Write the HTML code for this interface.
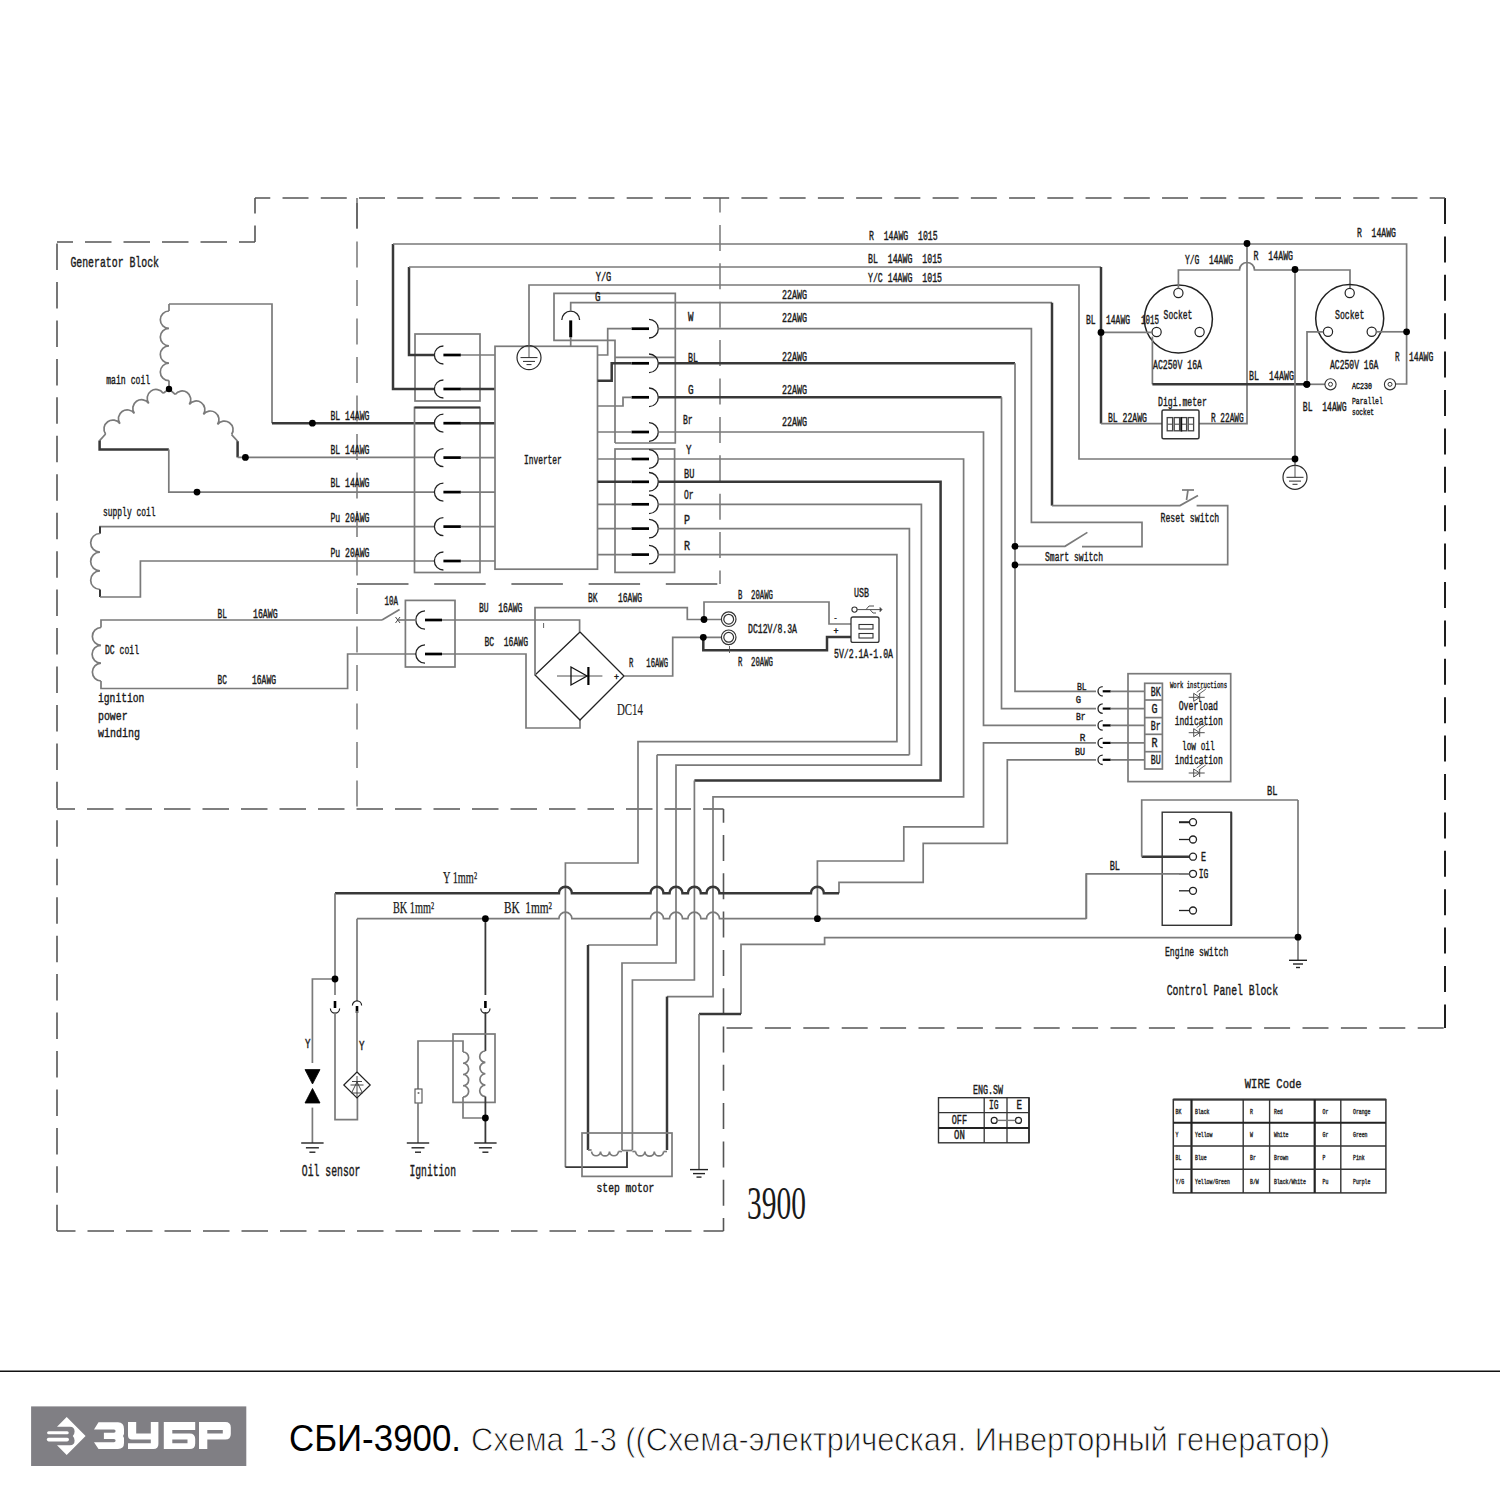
<!DOCTYPE html>
<html><head><meta charset="utf-8"><title>СБИ-3900 схема</title>
<style>html,body{margin:0;padding:0;background:#fff;width:1500px;height:1500px;overflow:hidden}svg{display:block}</style>
</head><body>
<svg width="1500" height="1500" viewBox="0 0 1500 1500" stroke-linecap="butt" stroke-linejoin="miter">
<rect x="0" y="0" width="1500" height="1500" fill="#fff"/>
<line x1="57" y1="242" x2="255" y2="242" stroke="#555555" stroke-width="1.6" stroke-dasharray="26.5 12" stroke-dashoffset="10.5"/>
<line x1="255" y1="242" x2="255" y2="198" stroke="#555555" stroke-width="1.6" stroke-dasharray="26.5 12" stroke-dashoffset="10"/>
<line x1="57" y1="242" x2="57" y2="1231" stroke="#555555" stroke-width="1.6" stroke-dasharray="26.5 11.95" stroke-dashoffset="36.9"/>
<line x1="57" y1="1231" x2="723.5" y2="1231" stroke="#555555" stroke-width="1.6" stroke-dasharray="26.5 12" stroke-dashoffset="8"/>
<line x1="723.5" y1="809" x2="723.5" y2="1231" stroke="#555555" stroke-width="1.6" stroke-dasharray="26 12.3" stroke-dashoffset="12.3"/>
<line x1="723.5" y1="1028" x2="1445" y2="1028" stroke="#555555" stroke-width="1.6" stroke-dasharray="26 12.4" stroke-dashoffset="35.4"/>
<line x1="1445" y1="198" x2="1445" y2="1028" stroke="#1e1e1e" stroke-width="2" stroke-dasharray="26 12.4" stroke-dashoffset="0"/>
<line x1="255" y1="198" x2="1445" y2="198" stroke="#555555" stroke-width="1.6" stroke-dasharray="26 12.24" stroke-dashoffset="10.72"/>
<line x1="57" y1="809" x2="723.5" y2="809" stroke="#555555" stroke-width="1.6" stroke-dasharray="26.5 12" stroke-dashoffset="8.5"/>
<line x1="357" y1="198" x2="357" y2="809" stroke="#555555" stroke-width="1.2" stroke-dasharray="26 12.5" stroke-dashoffset="33.4"/>
<path d="M357,198 V228" stroke="#4a4a4a" stroke-width="1.2" fill="none" />
<line x1="720" y1="198" x2="720" y2="584" stroke="#555555" stroke-width="1.2" stroke-dasharray="26 12.4" stroke-dashoffset="11.5"/>
<line x1="357" y1="584" x2="720" y2="584" stroke="#555555" stroke-width="1.6" stroke-dasharray="51.5 25.7" stroke-dashoffset="0"/>
<text x="70.4" y="267.4" font-family="'Liberation Mono', monospace" font-size="15.15" font-weight="normal" fill="#1a1a1a" text-anchor="start" textLength="88.6" lengthAdjust="spacingAndGlyphs" style="white-space:pre" stroke="#1a1a1a" stroke-width="0.42" >Generator Block</text>
<path d="M169,304 V311" stroke="#7a7a7a" stroke-width="1.7" fill="none" />
<path d="M169,311 A8.7,8.7 0 0 0 169,328.4 A8.7,8.7 0 0 0 169,345.8 A8.7,8.7 0 0 0 169,363.2 A8.7,8.7 0 0 0 169,380.6" stroke="#7a7a7a" stroke-width="1.7" fill="none" />
<path d="M169,380.6 V389" stroke="#7a7a7a" stroke-width="1.7" fill="none" />
<path d="M169,304 H272 V423.2" stroke="#7a7a7a" stroke-width="1.7" fill="none" />
<path d="M272,423.2 H434.3" stroke="#383838" stroke-width="2.5" fill="none" />
<text x="106.2" y="384.2" font-family="'Liberation Mono', monospace" font-size="12.73" font-weight="normal" fill="#1a1a1a" text-anchor="start" textLength="44" lengthAdjust="spacingAndGlyphs" style="white-space:pre" stroke="#1a1a1a" stroke-width="0.42" >main coil</text>
<path d="M169,389 L163.2,393.2" stroke="#7a7a7a" stroke-width="1.7" fill="none" />
<path d="M163.2,393.2 A8.82,8.82 0 0 0 148.8,403.4 A8.82,8.82 0 0 0 134.4,413.6 A8.82,8.82 0 0 0 120,423.8 A8.82,8.82 0 0 0 105.6,434" stroke="#7a7a7a" stroke-width="1.7" fill="none" />
<path d="M105.6,434 L99.6,440.6" stroke="#7a7a7a" stroke-width="1.7" fill="none" />
<path d="M99.6,440.6 V449.6 H168.8" stroke="#383838" stroke-width="2.5" fill="none" />
<path d="M168.8,449.6 V492.1 H434.3" stroke="#7a7a7a" stroke-width="1.7" fill="none" />
<path d="M169,389 L175.2,394.4" stroke="#7a7a7a" stroke-width="1.7" fill="none" />
<path d="M175.2,394.4 A8.66,8.66 0 0 1 189.3,404.45 A8.66,8.66 0 0 1 203.4,414.5 A8.66,8.66 0 0 1 217.5,424.55 A8.66,8.66 0 0 1 231.6,434.6" stroke="#7a7a7a" stroke-width="1.7" fill="none" />
<path d="M231.6,434.6 L237.6,441.2" stroke="#7a7a7a" stroke-width="1.7" fill="none" />
<path d="M237.6,441.2 V457.4" stroke="#383838" stroke-width="2.5" fill="none" />
<path d="M237.6,457.4 H434.3" stroke="#7a7a7a" stroke-width="1.7" fill="none" />
<text x="103" y="516" font-family="'Liberation Mono', monospace" font-size="12.73" font-weight="normal" fill="#1a1a1a" text-anchor="start" textLength="52.6" lengthAdjust="spacingAndGlyphs" style="white-space:pre" stroke="#1a1a1a" stroke-width="0.42" >supply coil</text>
<path d="M434.3,526.6 H100 V533.5" stroke="#7a7a7a" stroke-width="1.7" fill="none" />
<path d="M100,526.6 V533.5" stroke="#383838" stroke-width="2" fill="none" />
<path d="M100,533.5 A9.33,9.33 0 0 0 100,552.17 A9.33,9.33 0 0 0 100,570.83 A9.33,9.33 0 0 0 100,589.5" stroke="#7a7a7a" stroke-width="1.7" fill="none" />
<path d="M100,589.5 V597" stroke="#383838" stroke-width="2" fill="none" />
<path d="M100,597 H140.4 V561 H434.3" stroke="#7a7a7a" stroke-width="1.7" fill="none" />
<path d="M382,620 H101 V627.5" stroke="#7a7a7a" stroke-width="1.7" fill="none" />
<path d="M101,627.5 A8.92,8.92 0 0 0 101,645.33 A8.92,8.92 0 0 0 101,663.17 A8.92,8.92 0 0 0 101,681" stroke="#7a7a7a" stroke-width="1.7" fill="none" />
<path d="M101,681 V688.5 H347.6 V654 H416" stroke="#7a7a7a" stroke-width="1.7" fill="none" />
<text x="105" y="654" font-family="'Liberation Mono', monospace" font-size="12.12" font-weight="normal" fill="#1a1a1a" text-anchor="start" textLength="34" lengthAdjust="spacingAndGlyphs" style="white-space:pre" stroke="#1a1a1a" stroke-width="0.42" >DC coil</text>
<text x="217.6" y="618" font-family="'Liberation Mono', monospace" font-size="12.12" font-weight="normal" fill="#1a1a1a" text-anchor="start" textLength="9.4" lengthAdjust="spacingAndGlyphs" style="white-space:pre" stroke="#1a1a1a" stroke-width="0.42" >BL</text>
<text x="253" y="618" font-family="'Liberation Mono', monospace" font-size="12.12" font-weight="normal" fill="#1a1a1a" text-anchor="start" textLength="24.6" lengthAdjust="spacingAndGlyphs" style="white-space:pre" stroke="#1a1a1a" stroke-width="0.42" >16AWG</text>
<text x="217.6" y="683.5" font-family="'Liberation Mono', monospace" font-size="12.12" font-weight="normal" fill="#1a1a1a" text-anchor="start" textLength="9.4" lengthAdjust="spacingAndGlyphs" style="white-space:pre" stroke="#1a1a1a" stroke-width="0.42" >BC</text>
<text x="252" y="683.5" font-family="'Liberation Mono', monospace" font-size="12.12" font-weight="normal" fill="#1a1a1a" text-anchor="start" textLength="24" lengthAdjust="spacingAndGlyphs" style="white-space:pre" stroke="#1a1a1a" stroke-width="0.42" >16AWG</text>
<text x="98" y="702" font-family="'Liberation Mono', monospace" font-size="12.88" font-weight="normal" fill="#1a1a1a" text-anchor="start" textLength="46.4" lengthAdjust="spacingAndGlyphs" style="white-space:pre" stroke="#1a1a1a" stroke-width="0.42" >ignition</text>
<text x="98" y="720" font-family="'Liberation Mono', monospace" font-size="12.88" font-weight="normal" fill="#1a1a1a" text-anchor="start" textLength="29.6" lengthAdjust="spacingAndGlyphs" style="white-space:pre" stroke="#1a1a1a" stroke-width="0.42" >power</text>
<text x="98" y="737" font-family="'Liberation Mono', monospace" font-size="12.88" font-weight="normal" fill="#1a1a1a" text-anchor="start" textLength="42" lengthAdjust="spacingAndGlyphs" style="white-space:pre" stroke="#1a1a1a" stroke-width="0.42" >winding</text>
<text x="330.5" y="420" font-family="'Liberation Mono', monospace" font-size="12.73" font-weight="normal" fill="#1a1a1a" text-anchor="start" textLength="39" lengthAdjust="spacingAndGlyphs" style="white-space:pre" stroke="#1a1a1a" stroke-width="0.42" >BL 14AWG</text>
<text x="330.5" y="453.5" font-family="'Liberation Mono', monospace" font-size="12.73" font-weight="normal" fill="#1a1a1a" text-anchor="start" textLength="39" lengthAdjust="spacingAndGlyphs" style="white-space:pre" stroke="#1a1a1a" stroke-width="0.42" >BL 14AWG</text>
<text x="330.5" y="486.8" font-family="'Liberation Mono', monospace" font-size="12.73" font-weight="normal" fill="#1a1a1a" text-anchor="start" textLength="39" lengthAdjust="spacingAndGlyphs" style="white-space:pre" stroke="#1a1a1a" stroke-width="0.42" >BL 14AWG</text>
<text x="330.5" y="521.5" font-family="'Liberation Mono', monospace" font-size="12.73" font-weight="normal" fill="#1a1a1a" text-anchor="start" textLength="39" lengthAdjust="spacingAndGlyphs" style="white-space:pre" stroke="#1a1a1a" stroke-width="0.42" >Pu 20AWG</text>
<text x="330.5" y="556.5" font-family="'Liberation Mono', monospace" font-size="12.73" font-weight="normal" fill="#1a1a1a" text-anchor="start" textLength="39" lengthAdjust="spacingAndGlyphs" style="white-space:pre" stroke="#1a1a1a" stroke-width="0.42" >Pu 20AWG</text>
<rect x="415" y="334" width="65" height="67" rx="0" stroke="#7a7a7a" stroke-width="1.7" fill="none"/>
<rect x="414.5" y="407.5" width="65.5" height="165" rx="0" stroke="#7a7a7a" stroke-width="1.7" fill="none"/>
<path d="M414.5,407.5 H480" stroke="#383838" stroke-width="2" fill="none" />
<path d="M443.4,346 A9,9 0 0 0 443.4,364" stroke="#222" stroke-width="1.3" fill="none" />
<path d="M443.4,355 H460.9" stroke="#000" stroke-width="2.7" fill="none" />
<path d="M443.4,380 A9,9 0 0 0 443.4,398" stroke="#222" stroke-width="1.3" fill="none" />
<path d="M443.4,389 H460.9" stroke="#000" stroke-width="2.7" fill="none" />
<path d="M443.4,414.2 A9,9 0 0 0 443.4,432.2" stroke="#222" stroke-width="1.3" fill="none" />
<path d="M443.4,423.2 H460.9" stroke="#000" stroke-width="2.7" fill="none" />
<path d="M443.4,448.6 A9,9 0 0 0 443.4,466.6" stroke="#222" stroke-width="1.3" fill="none" />
<path d="M443.4,457.6 H460.9" stroke="#000" stroke-width="2.7" fill="none" />
<path d="M443.4,483.1 A9,9 0 0 0 443.4,501.1" stroke="#222" stroke-width="1.3" fill="none" />
<path d="M443.4,492.1 H460.9" stroke="#000" stroke-width="2.7" fill="none" />
<path d="M443.4,517.6 A9,9 0 0 0 443.4,535.6" stroke="#222" stroke-width="1.3" fill="none" />
<path d="M443.4,526.6 H460.9" stroke="#000" stroke-width="2.7" fill="none" />
<path d="M443.4,552 A9,9 0 0 0 443.4,570" stroke="#222" stroke-width="1.3" fill="none" />
<path d="M443.4,561 H460.9" stroke="#000" stroke-width="2.7" fill="none" />
<path d="M460.7,355 H495" stroke="#7a7a7a" stroke-width="1.7" fill="none" />
<path d="M460.7,389 H495" stroke="#383838" stroke-width="2.5" fill="none" />
<path d="M460.7,423.2 H495" stroke="#383838" stroke-width="2.5" fill="none" />
<path d="M460.7,457.6 H495" stroke="#7a7a7a" stroke-width="1.7" fill="none" />
<path d="M460.7,492.1 H495" stroke="#7a7a7a" stroke-width="1.7" fill="none" />
<path d="M460.7,526.6 H495" stroke="#7a7a7a" stroke-width="1.7" fill="none" />
<path d="M460.7,561 H495" stroke="#7a7a7a" stroke-width="1.7" fill="none" />
<path d="M434.3,355 H409 V267" stroke="#383838" stroke-width="2.5" fill="none" />
<path d="M434.3,389 H393 V244" stroke="#383838" stroke-width="2.5" fill="none" />
<rect x="495" y="346.3" width="102.5" height="222.9" rx="0" stroke="#7a7a7a" stroke-width="1.7" fill="none"/>
<text x="524" y="463.6" font-family="'Liberation Mono', monospace" font-size="12.12" font-weight="normal" fill="#1a1a1a" text-anchor="start" textLength="37.8" lengthAdjust="spacingAndGlyphs" style="white-space:pre" stroke="#1a1a1a" stroke-width="0.42" >Inverter</text>
<circle cx="529" cy="357.6" r="12" stroke="#2a2a2a" stroke-width="1.2" fill="none"/>
<path d="M529,345.6 V357.6" stroke="#505050" stroke-width="1" fill="none" />
<path d="M520.5,357.6 H537.5 M523,361.4 H535 M526.5,364.6 H531.5" stroke="#2a2a2a" stroke-width="1" fill="none" />
<path d="M529,345.6 V285 H1079 V459 H1295" stroke="#7a7a7a" stroke-width="1.7" fill="none" />
<text x="595.7" y="281.3" font-family="'Liberation Mono', monospace" font-size="12.73" font-weight="normal" fill="#1a1a1a" text-anchor="start" textLength="15.6" lengthAdjust="spacingAndGlyphs" style="white-space:pre" stroke="#1a1a1a" stroke-width="0.42" >Y/G</text>
<path d="M615,443 V340.3 H554 V293.3 H675.3 V443 H615" stroke="#7a7a7a" stroke-width="1.7" fill="none" />
<path d="M615,357.3 H675.3" stroke="#7a7a7a" stroke-width="1.7" fill="none" />
<text x="595" y="301" font-family="'Liberation Mono', monospace" font-size="12.12" font-weight="normal" fill="#1a1a1a" text-anchor="start" textLength="5.5" lengthAdjust="spacingAndGlyphs" style="white-space:pre" stroke="#1a1a1a" stroke-width="0.42" >G</text>
<path d="M570.7,346.3 V337.3" stroke="#7a7a7a" stroke-width="1.7" fill="none" />
<path d="M570.7,320.4 V337.3" stroke="#000" stroke-width="3" fill="none" />
<path d="M561.8,320 A8.9,8.9 0 0 1 579.6,320" stroke="#222" stroke-width="1.3" fill="none" />
<path d="M570.7,311.1 V302.7 H1052" stroke="#7a7a7a" stroke-width="1.7" fill="none" />
<path d="M393,244 H1406.6 V384 H1396" stroke="#7a7a7a" stroke-width="1.7" fill="none" />
<path d="M409,267 H1101" stroke="#7a7a7a" stroke-width="1.7" fill="none" />
<path d="M1101,267 V423.6" stroke="#383838" stroke-width="2.5" fill="none" />
<path d="M1101,423.6 H1162" stroke="#7a7a7a" stroke-width="1.7" fill="none" />
<text x="869" y="240" font-family="'Liberation Mono', monospace" font-size="12.73" font-weight="normal" fill="#1a1a1a" text-anchor="start" textLength="68.6" lengthAdjust="spacingAndGlyphs" style="white-space:pre" stroke="#1a1a1a" stroke-width="0.42" >R  14AWG  1015</text>
<text x="868" y="263" font-family="'Liberation Mono', monospace" font-size="12.73" font-weight="normal" fill="#1a1a1a" text-anchor="start" textLength="74" lengthAdjust="spacingAndGlyphs" style="white-space:pre" stroke="#1a1a1a" stroke-width="0.42" >BL  14AWG  1015</text>
<text x="868" y="282" font-family="'Liberation Mono', monospace" font-size="12.73" font-weight="normal" fill="#1a1a1a" text-anchor="start" textLength="74" lengthAdjust="spacingAndGlyphs" style="white-space:pre" stroke="#1a1a1a" stroke-width="0.42" >Y/C 14AWG  1015</text>
<text x="782" y="299" font-family="'Liberation Mono', monospace" font-size="12.73" font-weight="normal" fill="#1a1a1a" text-anchor="start" textLength="25" lengthAdjust="spacingAndGlyphs" style="white-space:pre" stroke="#1a1a1a" stroke-width="0.42" >22AWG</text>
<text x="782" y="322" font-family="'Liberation Mono', monospace" font-size="12.73" font-weight="normal" fill="#1a1a1a" text-anchor="start" textLength="25" lengthAdjust="spacingAndGlyphs" style="white-space:pre" stroke="#1a1a1a" stroke-width="0.42" >22AWG</text>
<text x="782" y="361" font-family="'Liberation Mono', monospace" font-size="12.73" font-weight="normal" fill="#1a1a1a" text-anchor="start" textLength="25" lengthAdjust="spacingAndGlyphs" style="white-space:pre" stroke="#1a1a1a" stroke-width="0.42" >22AWG</text>
<text x="782" y="394" font-family="'Liberation Mono', monospace" font-size="12.73" font-weight="normal" fill="#1a1a1a" text-anchor="start" textLength="25" lengthAdjust="spacingAndGlyphs" style="white-space:pre" stroke="#1a1a1a" stroke-width="0.42" >22AWG</text>
<text x="782" y="425.6" font-family="'Liberation Mono', monospace" font-size="12.73" font-weight="normal" fill="#1a1a1a" text-anchor="start" textLength="25" lengthAdjust="spacingAndGlyphs" style="white-space:pre" stroke="#1a1a1a" stroke-width="0.42" >22AWG</text>
<rect x="615" y="449" width="59.6" height="123.4" rx="0" stroke="#7a7a7a" stroke-width="1.7" fill="none"/>
<path d="M649,319.4 A9.3,9.3 0 0 1 649,338" stroke="#222" stroke-width="1.3" fill="none" />
<path d="M631.5,328.7 H649" stroke="#000" stroke-width="2.7" fill="none" />
<path d="M649,354 A9.3,9.3 0 0 1 649,372.6" stroke="#222" stroke-width="1.3" fill="none" />
<path d="M631.5,363.3 H649" stroke="#000" stroke-width="2.7" fill="none" />
<path d="M649,388 A9.3,9.3 0 0 1 649,406.6" stroke="#222" stroke-width="1.3" fill="none" />
<path d="M631.5,397.3 H649" stroke="#000" stroke-width="2.7" fill="none" />
<path d="M649,422.7 A9.3,9.3 0 0 1 649,441.3" stroke="#222" stroke-width="1.3" fill="none" />
<path d="M631.5,432 H649" stroke="#000" stroke-width="2.7" fill="none" />
<path d="M649,449.7 A9.3,9.3 0 0 1 649,468.3" stroke="#222" stroke-width="1.3" fill="none" />
<path d="M631.5,459 H649" stroke="#000" stroke-width="2.7" fill="none" />
<path d="M649,472.5 A9.3,9.3 0 0 1 649,491.1" stroke="#222" stroke-width="1.3" fill="none" />
<path d="M631.5,481.8 H649" stroke="#000" stroke-width="2.7" fill="none" />
<path d="M649,495 A9.3,9.3 0 0 1 649,513.6" stroke="#222" stroke-width="1.3" fill="none" />
<path d="M631.5,504.3 H649" stroke="#000" stroke-width="2.7" fill="none" />
<path d="M649,519.3 A9.3,9.3 0 0 1 649,537.9" stroke="#222" stroke-width="1.3" fill="none" />
<path d="M631.5,528.6 H649" stroke="#000" stroke-width="2.7" fill="none" />
<path d="M649,545.3 A9.3,9.3 0 0 1 649,563.9" stroke="#222" stroke-width="1.3" fill="none" />
<path d="M631.5,554.6 H649" stroke="#000" stroke-width="2.7" fill="none" />
<path d="M631.5,328.7 H607.7 V355 H597.5" stroke="#7a7a7a" stroke-width="1.7" fill="none" />
<path d="M631.5,363.3 H611.7 V380.7 H597.5" stroke="#383838" stroke-width="2.5" fill="none" />
<path d="M631.5,397.3 H623 V406 H597.5" stroke="#7a7a7a" stroke-width="1.7" fill="none" />
<path d="M631.5,432 H597.5" stroke="#7a7a7a" stroke-width="1.7" fill="none" />
<path d="M597.5,459 H631.5" stroke="#7a7a7a" stroke-width="1.7" fill="none" />
<path d="M597.5,481.8 H631.5" stroke="#383838" stroke-width="2.5" fill="none" />
<path d="M597.5,504.3 H631.5" stroke="#7a7a7a" stroke-width="1.7" fill="none" />
<path d="M597.5,528.6 H631.5" stroke="#7a7a7a" stroke-width="1.7" fill="none" />
<path d="M597.5,554.6 H631.5" stroke="#7a7a7a" stroke-width="1.7" fill="none" />
<text x="688" y="321" font-family="'Liberation Mono', monospace" font-size="12.12" font-weight="normal" fill="#1a1a1a" text-anchor="start" textLength="5.5" lengthAdjust="spacingAndGlyphs" style="white-space:pre" stroke="#1a1a1a" stroke-width="0.42" >W</text>
<text x="688" y="362" font-family="'Liberation Mono', monospace" font-size="12.12" font-weight="normal" fill="#1a1a1a" text-anchor="start" textLength="10" lengthAdjust="spacingAndGlyphs" style="white-space:pre" stroke="#1a1a1a" stroke-width="0.42" >BL</text>
<text x="688" y="394" font-family="'Liberation Mono', monospace" font-size="12.12" font-weight="normal" fill="#1a1a1a" text-anchor="start" textLength="5.6" lengthAdjust="spacingAndGlyphs" style="white-space:pre" stroke="#1a1a1a" stroke-width="0.42" >G</text>
<text x="683" y="424" font-family="'Liberation Mono', monospace" font-size="12.12" font-weight="normal" fill="#1a1a1a" text-anchor="start" textLength="9.7" lengthAdjust="spacingAndGlyphs" style="white-space:pre" stroke="#1a1a1a" stroke-width="0.42" >Br</text>
<text x="686" y="454.4" font-family="'Liberation Mono', monospace" font-size="12.12" font-weight="normal" fill="#1a1a1a" text-anchor="start" textLength="5.5" lengthAdjust="spacingAndGlyphs" style="white-space:pre" stroke="#1a1a1a" stroke-width="0.42" >Y</text>
<text x="684" y="477.6" font-family="'Liberation Mono', monospace" font-size="12.12" font-weight="normal" fill="#1a1a1a" text-anchor="start" textLength="10.4" lengthAdjust="spacingAndGlyphs" style="white-space:pre" stroke="#1a1a1a" stroke-width="0.42" >BU</text>
<text x="684" y="499" font-family="'Liberation Mono', monospace" font-size="12.12" font-weight="normal" fill="#1a1a1a" text-anchor="start" textLength="9.6" lengthAdjust="spacingAndGlyphs" style="white-space:pre" stroke="#1a1a1a" stroke-width="0.42" >Or</text>
<text x="684" y="524" font-family="'Liberation Mono', monospace" font-size="12.12" font-weight="normal" fill="#1a1a1a" text-anchor="start" textLength="6" lengthAdjust="spacingAndGlyphs" style="white-space:pre" stroke="#1a1a1a" stroke-width="0.42" >P</text>
<text x="684" y="549.6" font-family="'Liberation Mono', monospace" font-size="12.12" font-weight="normal" fill="#1a1a1a" text-anchor="start" textLength="6" lengthAdjust="spacingAndGlyphs" style="white-space:pre" stroke="#1a1a1a" stroke-width="0.42" >R</text>
<path d="M658.3,328.7 H1031.4 V522.4 H1142 V546.6 H1082" stroke="#7a7a7a" stroke-width="1.7" fill="none" />
<path d="M658.3,363.3 H1015" stroke="#383838" stroke-width="2.5" fill="none" />
<path d="M1015,363.3 V691.3 H1096" stroke="#7a7a7a" stroke-width="1.7" fill="none" />
<path d="M658.3,397.3 H1001.5" stroke="#383838" stroke-width="2.5" fill="none" />
<path d="M1001.5,397.3 V708.6 H1096" stroke="#7a7a7a" stroke-width="1.7" fill="none" />
<path d="M658.3,432 H983.5 V725.4 H1096" stroke="#7a7a7a" stroke-width="1.7" fill="none" />
<path d="M1015,546.3 H1065 L1087.4,532.4" stroke="#7a7a7a" stroke-width="1.7" fill="none" />
<text x="1045" y="561" font-family="'Liberation Mono', monospace" font-size="12.73" font-weight="normal" fill="#1a1a1a" text-anchor="start" textLength="58" lengthAdjust="spacingAndGlyphs" style="white-space:pre" stroke="#1a1a1a" stroke-width="0.42" >Smart switch</text>
<path d="M1052,302.7 V505.6" stroke="#383838" stroke-width="2.5" fill="none" />
<path d="M1052,505.6 H1180 L1198,495.4" stroke="#7a7a7a" stroke-width="1.7" fill="none" />
<path d="M1182,490 H1194" stroke="#7a7a7a" stroke-width="1.7" fill="none" />
<path d="M1188,490 L1186.5,500" stroke="#7a7a7a" stroke-width="1.7" fill="none" />
<path d="M1196.6,505.6 H1227.7 V564.7 H1015" stroke="#7a7a7a" stroke-width="1.7" fill="none" />
<text x="1160.5" y="521.5" font-family="'Liberation Mono', monospace" font-size="12.73" font-weight="normal" fill="#1a1a1a" text-anchor="start" textLength="58.7" lengthAdjust="spacingAndGlyphs" style="white-space:pre" stroke="#1a1a1a" stroke-width="0.42" >Reset switch</text>
<path d="M658.3,459 H963.6 V796.9 H713 V996.6 H667" stroke="#7a7a7a" stroke-width="1.7" fill="none" />
<path d="M667,996.6 V1150" stroke="#383838" stroke-width="2.5" fill="none" />
<path d="M658.3,481.8 H940.6 V780.5 H694.4" stroke="#383838" stroke-width="2.5" fill="none" />
<path d="M694.4,780.5 V980 H632.4 V1150" stroke="#7a7a7a" stroke-width="1.7" fill="none" />
<path d="M658.3,504.3 H921.4 V765.1 H676 V963 H622 V1150" stroke="#7a7a7a" stroke-width="1.7" fill="none" />
<path d="M658.3,528.6 H909.4 V754.8" stroke="#7a7a7a" stroke-width="1.7" fill="none" />
<path d="M909.4,754.8 H657" stroke="#7a7a7a" stroke-width="1.7" fill="none" />
<path d="M657,754.8 V945 H588" stroke="#7a7a7a" stroke-width="1.7" fill="none" />
<path d="M588,945 V1150" stroke="#383838" stroke-width="2.5" fill="none" />
<path d="M658.3,554.6 H896.9 V741.7 H638 V863 H565.4 V1167.2" stroke="#7a7a7a" stroke-width="1.7" fill="none" />
<path d="M565.4,1167.2 H627 V1151.6" stroke="#383838" stroke-width="1.8" fill="none" />
<path d="M1247,243.5 V423.6 H1199" stroke="#7a7a7a" stroke-width="1.7" fill="none" />
<circle cx="1178.4" cy="319" r="34" stroke="#222" stroke-width="1.5" fill="none"/>
<circle cx="1178.4" cy="293" r="4.6" stroke="#222" stroke-width="1.2" fill="none"/>
<circle cx="1156.6" cy="332" r="4.6" stroke="#222" stroke-width="1.2" fill="none"/>
<circle cx="1199.6" cy="332" r="4.6" stroke="#222" stroke-width="1.2" fill="none"/>
<path d="M1101,332.4 H1152" stroke="#7a7a7a" stroke-width="1.7" fill="none" />
<path d="M1152.4,336.6 V384.3" stroke="#7a7a7a" stroke-width="1.7" fill="none" />
<path d="M1152.4,384.3 H1306.6" stroke="#383838" stroke-width="2.5" fill="none" />
<path d="M1306.6,384.3 H1325" stroke="#7a7a7a" stroke-width="1.7" fill="none" />
<path d="M1178.4,288.4 V270 H1239.5 A7.5,7.5 0 0 1 1254.5,270 H1350 V288.4" stroke="#7a7a7a" stroke-width="1.7" fill="none" />
<path d="M1295,269.5 V465.3" stroke="#7a7a7a" stroke-width="1.7" fill="none" />
<circle cx="1295" cy="477.3" r="12" stroke="#2a2a2a" stroke-width="1.2" fill="none"/>
<path d="M1295,465.3 V477.3" stroke="#505050" stroke-width="1" fill="none" />
<path d="M1286.5,477.3 H1303.5 M1289,481.1 H1301 M1292.5,484.3 H1297.5" stroke="#2a2a2a" stroke-width="1" fill="none" />
<text x="1163.6" y="319" font-family="'Liberation Mono', monospace" font-size="12.73" font-weight="normal" fill="#1a1a1a" text-anchor="start" textLength="28.8" lengthAdjust="spacingAndGlyphs" style="white-space:pre" stroke="#1a1a1a" stroke-width="0.42" >Socket</text>
<text x="1153" y="369" font-family="'Liberation Mono', monospace" font-size="12.73" font-weight="normal" fill="#1a1a1a" text-anchor="start" textLength="49" lengthAdjust="spacingAndGlyphs" style="white-space:pre" stroke="#1a1a1a" stroke-width="0.42" >AC250V 16A</text>
<text x="1086" y="324" font-family="'Liberation Mono', monospace" font-size="12.73" font-weight="normal" fill="#1a1a1a" text-anchor="start" textLength="9.6" lengthAdjust="spacingAndGlyphs" style="white-space:pre" stroke="#1a1a1a" stroke-width="0.42" >BL</text>
<text x="1106" y="324" font-family="'Liberation Mono', monospace" font-size="12.73" font-weight="normal" fill="#1a1a1a" text-anchor="start" textLength="24" lengthAdjust="spacingAndGlyphs" style="white-space:pre" stroke="#1a1a1a" stroke-width="0.42" >14AWG</text>
<text x="1141" y="324" font-family="'Liberation Mono', monospace" font-size="12.73" font-weight="normal" fill="#1a1a1a" text-anchor="start" textLength="18" lengthAdjust="spacingAndGlyphs" style="white-space:pre" stroke="#1a1a1a" stroke-width="0.42" >1015</text>
<text x="1185" y="263.6" font-family="'Liberation Mono', monospace" font-size="12.73" font-weight="normal" fill="#1a1a1a" text-anchor="start" textLength="48" lengthAdjust="spacingAndGlyphs" style="white-space:pre" stroke="#1a1a1a" stroke-width="0.42" >Y/G  14AWG</text>
<text x="1253.6" y="259.6" font-family="'Liberation Mono', monospace" font-size="12.73" font-weight="normal" fill="#1a1a1a" text-anchor="start" textLength="39.4" lengthAdjust="spacingAndGlyphs" style="white-space:pre" stroke="#1a1a1a" stroke-width="0.42" >R  14AWG</text>
<circle cx="1349.7" cy="318.6" r="34" stroke="#222" stroke-width="1.5" fill="none"/>
<circle cx="1349.7" cy="293" r="4.6" stroke="#222" stroke-width="1.2" fill="none"/>
<circle cx="1328" cy="331.8" r="4.6" stroke="#222" stroke-width="1.2" fill="none"/>
<circle cx="1371.7" cy="331.8" r="4.6" stroke="#222" stroke-width="1.2" fill="none"/>
<path d="M1376.3,331.8 H1406.6" stroke="#7a7a7a" stroke-width="1.7" fill="none" />
<path d="M1323.4,331.8 H1307 V384.3" stroke="#7a7a7a" stroke-width="1.7" fill="none" />
<text x="1357" y="237" font-family="'Liberation Mono', monospace" font-size="12.73" font-weight="normal" fill="#1a1a1a" text-anchor="start" textLength="39" lengthAdjust="spacingAndGlyphs" style="white-space:pre" stroke="#1a1a1a" stroke-width="0.42" >R  14AWG</text>
<text x="1335" y="318.6" font-family="'Liberation Mono', monospace" font-size="12.73" font-weight="normal" fill="#1a1a1a" text-anchor="start" textLength="29.4" lengthAdjust="spacingAndGlyphs" style="white-space:pre" stroke="#1a1a1a" stroke-width="0.42" >Socket</text>
<text x="1330" y="368.5" font-family="'Liberation Mono', monospace" font-size="12.73" font-weight="normal" fill="#1a1a1a" text-anchor="start" textLength="48.3" lengthAdjust="spacingAndGlyphs" style="white-space:pre" stroke="#1a1a1a" stroke-width="0.42" >AC250V 16A</text>
<text x="1395" y="361" font-family="'Liberation Mono', monospace" font-size="12.73" font-weight="normal" fill="#1a1a1a" text-anchor="start" textLength="4.6" lengthAdjust="spacingAndGlyphs" style="white-space:pre" stroke="#1a1a1a" stroke-width="0.42" >R</text>
<text x="1409" y="361" font-family="'Liberation Mono', monospace" font-size="12.73" font-weight="normal" fill="#1a1a1a" text-anchor="start" textLength="24.3" lengthAdjust="spacingAndGlyphs" style="white-space:pre" stroke="#1a1a1a" stroke-width="0.42" >14AWG</text>
<text x="1249" y="380" font-family="'Liberation Mono', monospace" font-size="12.73" font-weight="normal" fill="#1a1a1a" text-anchor="start" textLength="45" lengthAdjust="spacingAndGlyphs" style="white-space:pre" stroke="#1a1a1a" stroke-width="0.42" >BL  14AWG</text>
<circle cx="1330.5" cy="384.3" r="5.6" stroke="#333" stroke-width="1.1" fill="none"/>
<circle cx="1330.5" cy="384.3" r="2" stroke="#333" stroke-width="1" fill="none"/>
<circle cx="1390" cy="384.3" r="5.6" stroke="#333" stroke-width="1.1" fill="none"/>
<circle cx="1390" cy="384.3" r="2" stroke="#333" stroke-width="1" fill="none"/>
<text x="1352" y="389" font-family="'Liberation Mono', monospace" font-size="9.09" font-weight="normal" fill="#1a1a1a" text-anchor="start" textLength="20" lengthAdjust="spacingAndGlyphs" style="white-space:pre" stroke="#1a1a1a" stroke-width="0.42" >AC230</text>
<text x="1352" y="404" font-family="'Liberation Mono', monospace" font-size="9.85" font-weight="normal" fill="#1a1a1a" text-anchor="start" textLength="30.8" lengthAdjust="spacingAndGlyphs" style="white-space:pre" stroke="#1a1a1a" stroke-width="0.42" >Parallel</text>
<text x="1352" y="414.8" font-family="'Liberation Mono', monospace" font-size="9.09" font-weight="normal" fill="#1a1a1a" text-anchor="start" textLength="22" lengthAdjust="spacingAndGlyphs" style="white-space:pre" stroke="#1a1a1a" stroke-width="0.42" >socket</text>
<text x="1302.8" y="410.5" font-family="'Liberation Mono', monospace" font-size="12.73" font-weight="normal" fill="#1a1a1a" text-anchor="start" textLength="43.7" lengthAdjust="spacingAndGlyphs" style="white-space:pre" stroke="#1a1a1a" stroke-width="0.42" >BL  14AWG</text>
<rect x="1162" y="410" width="37" height="28.7" rx="1.5" stroke="#333" stroke-width="1.5" fill="none"/>
<rect x="1167.2" y="417.6" width="5.4" height="13.2" rx="0" stroke="#444" stroke-width="1.3" fill="none"/>
<path d="M1167.2,424.2 H1172.6" stroke="#555" stroke-width="1.1" fill="none" />
<rect x="1174.2" y="417.6" width="5.4" height="13.2" rx="0" stroke="#444" stroke-width="1.3" fill="none"/>
<path d="M1174.2,424.2 H1179.6" stroke="#555" stroke-width="1.1" fill="none" />
<rect x="1181.2" y="417.6" width="5.4" height="13.2" rx="0" stroke="#444" stroke-width="1.3" fill="none"/>
<path d="M1181.2,424.2 H1186.6" stroke="#555" stroke-width="1.1" fill="none" />
<rect x="1188.2" y="417.6" width="5.4" height="13.2" rx="0" stroke="#444" stroke-width="1.3" fill="none"/>
<path d="M1188.2,424.2 H1193.6" stroke="#555" stroke-width="1.1" fill="none" />
<path d="M1181.3,417 V431.5" stroke="#111" stroke-width="1.8" fill="none" />
<text x="1158" y="406" font-family="'Liberation Mono', monospace" font-size="12.73" font-weight="normal" fill="#1a1a1a" text-anchor="start" textLength="48.8" lengthAdjust="spacingAndGlyphs" style="white-space:pre" stroke="#1a1a1a" stroke-width="0.42" >Digi.meter</text>
<text x="1108" y="421.6" font-family="'Liberation Mono', monospace" font-size="12.73" font-weight="normal" fill="#1a1a1a" text-anchor="start" textLength="39" lengthAdjust="spacingAndGlyphs" style="white-space:pre" stroke="#1a1a1a" stroke-width="0.42" >BL 22AWG</text>
<text x="1211" y="421.6" font-family="'Liberation Mono', monospace" font-size="12.73" font-weight="normal" fill="#1a1a1a" text-anchor="start" textLength="32.6" lengthAdjust="spacingAndGlyphs" style="white-space:pre" stroke="#1a1a1a" stroke-width="0.42" >R 22AWG</text>
<rect x="405.4" y="600.4" width="49.6" height="66.6" rx="0" stroke="#7a7a7a" stroke-width="1.7" fill="none"/>
<path d="M425,610.8 A9.2,9.2 0 0 0 425,629.2" stroke="#222" stroke-width="1.3" fill="none" />
<path d="M425,620 H442" stroke="#000" stroke-width="2.7" fill="none" />
<path d="M425,644.8 A9.2,9.2 0 0 0 425,663.2" stroke="#222" stroke-width="1.3" fill="none" />
<path d="M425,654 H442" stroke="#000" stroke-width="2.7" fill="none" />
<path d="M382,620 L399.6,609.6" stroke="#7a7a7a" stroke-width="1.7" fill="none" />
<path d="M395.5,617 L400,623 M395.5,623 L400,617" stroke="#333" stroke-width="0.9" fill="none" />
<path d="M398,620 H416" stroke="#7a7a7a" stroke-width="1.7" fill="none" />
<text x="384.4" y="605" font-family="'Liberation Mono', monospace" font-size="12.73" font-weight="normal" fill="#1a1a1a" text-anchor="start" textLength="13.6" lengthAdjust="spacingAndGlyphs" style="white-space:pre" stroke="#1a1a1a" stroke-width="0.42" >10A</text>
<path d="M442,620 H579.6 V632" stroke="#7a7a7a" stroke-width="1.7" fill="none" />
<text x="479" y="612" font-family="'Liberation Mono', monospace" font-size="12.73" font-weight="normal" fill="#1a1a1a" text-anchor="start" textLength="43.4" lengthAdjust="spacingAndGlyphs" style="white-space:pre" stroke="#1a1a1a" stroke-width="0.42" >BU  16AWG</text>
<path d="M442,654 H526 V728 H580 V720" stroke="#7a7a7a" stroke-width="1.7" fill="none" />
<text x="484.4" y="646.4" font-family="'Liberation Mono', monospace" font-size="12.73" font-weight="normal" fill="#1a1a1a" text-anchor="start" textLength="43.6" lengthAdjust="spacingAndGlyphs" style="white-space:pre" stroke="#1a1a1a" stroke-width="0.42" >BC  16AWG</text>
<path d="M580,632 L624,676 L580,720 L535,675 L580,632" stroke="#222" stroke-width="1.3" fill="none" />
<path d="M535,675 V607.6 H687.3 V619.5 H721.2" stroke="#7a7a7a" stroke-width="1.7" fill="none" />
<text x="588" y="602" font-family="'Liberation Mono', monospace" font-size="12.73" font-weight="normal" fill="#1a1a1a" text-anchor="start" textLength="9.6" lengthAdjust="spacingAndGlyphs" style="white-space:pre" stroke="#1a1a1a" stroke-width="0.42" >BK</text>
<text x="618" y="602" font-family="'Liberation Mono', monospace" font-size="12.73" font-weight="normal" fill="#1a1a1a" text-anchor="start" textLength="24" lengthAdjust="spacingAndGlyphs" style="white-space:pre" stroke="#1a1a1a" stroke-width="0.42" >16AWG</text>
<path d="M557,676 H602.4" stroke="#505050" stroke-width="1" fill="none" />
<path d="M571,667 L587,676 L571,685 Z" stroke="#111" stroke-width="1.3" fill="none" />
<path d="M588.4,667 V685" stroke="#000" stroke-width="2.2" fill="none" />
<text x="614" y="679.5" font-family="'Liberation Mono', monospace" font-size="9.09" font-weight="normal" fill="#1a1a1a" text-anchor="start" textLength="5" lengthAdjust="spacingAndGlyphs" style="white-space:pre" stroke="#1a1a1a" stroke-width="0.42" >+</text>
<path d="M543.6,623 V628" stroke="#505050" stroke-width="0.9" fill="none" />
<path d="M624,676 H672.7 V637.3 H721.2" stroke="#7a7a7a" stroke-width="1.7" fill="none" />
<text x="629" y="667" font-family="'Liberation Mono', monospace" font-size="12.73" font-weight="normal" fill="#1a1a1a" text-anchor="start" textLength="39" lengthAdjust="spacingAndGlyphs" style="white-space:pre" stroke="#1a1a1a" stroke-width="0.42" >R   16AWG</text>
<text x="617" y="715" font-family="'Liberation Serif', serif" font-size="16.67" font-weight="normal" fill="#1a1a1a" text-anchor="start" textLength="26" lengthAdjust="spacingAndGlyphs" style="white-space:pre" stroke="#1a1a1a" stroke-width="0.15" >DC14</text>
<path d="M704,619.5 V602 H829 V624 H851" stroke="#7a7a7a" stroke-width="1.7" fill="none" />
<path d="M703.3,637.3 V650.3 H827 V637 H851" stroke="#383838" stroke-width="2.5" fill="none" />
<circle cx="728.7" cy="619.2" r="7.3" stroke="#333" stroke-width="1.2" fill="none"/>
<circle cx="728.7" cy="619.2" r="4.9" stroke="#333" stroke-width="1.2" fill="none"/>
<circle cx="728.7" cy="637.3" r="7.3" stroke="#333" stroke-width="1.2" fill="none"/>
<circle cx="728.7" cy="637.3" r="4.9" stroke="#333" stroke-width="1.2" fill="none"/>
<path d="M729.5,646 V653" stroke="#505050" stroke-width="0.9" fill="none" />
<text x="738" y="599" font-family="'Liberation Mono', monospace" font-size="12.73" font-weight="normal" fill="#1a1a1a" text-anchor="start" textLength="35" lengthAdjust="spacingAndGlyphs" style="white-space:pre" stroke="#1a1a1a" stroke-width="0.42" >B  20AWG</text>
<text x="748" y="633" font-family="'Liberation Mono', monospace" font-size="12.12" font-weight="normal" fill="#1a1a1a" text-anchor="start" textLength="49" lengthAdjust="spacingAndGlyphs" style="white-space:pre" stroke="#1a1a1a" stroke-width="0.42" >DC12V/8.3A</text>
<text x="738" y="665.6" font-family="'Liberation Mono', monospace" font-size="12.73" font-weight="normal" fill="#1a1a1a" text-anchor="start" textLength="35" lengthAdjust="spacingAndGlyphs" style="white-space:pre" stroke="#1a1a1a" stroke-width="0.42" >R  20AWG</text>
<text x="833.5" y="621" font-family="'Liberation Mono', monospace" font-size="9.09" font-weight="normal" fill="#1a1a1a" text-anchor="start" textLength="4" lengthAdjust="spacingAndGlyphs" style="white-space:pre" stroke="#1a1a1a" stroke-width="0.42" >-</text>
<text x="833.5" y="634" font-family="'Liberation Mono', monospace" font-size="9.09" font-weight="normal" fill="#1a1a1a" text-anchor="start" textLength="5" lengthAdjust="spacingAndGlyphs" style="white-space:pre" stroke="#1a1a1a" stroke-width="0.42" >+</text>
<rect x="851" y="617" width="28" height="25.4" rx="2" stroke="#333" stroke-width="1.3" fill="none"/>
<rect x="859" y="624.5" width="14" height="4.5" rx="0" stroke="#333" stroke-width="1.1" fill="none"/>
<rect x="859" y="633.5" width="14" height="4.5" rx="0" stroke="#333" stroke-width="1.1" fill="none"/>
<circle cx="854.5" cy="609.6" r="2.6" stroke="#333" stroke-width="1.1" fill="none"/>
<path d="M857,609.6 H880 M866,609.6 L869,606 H874 M870,609.6 L873,613 H876" stroke="#505050" stroke-width="1" fill="none" />
<path d="M880,607.5 L882,609.6 L880,611.7 Z" stroke="#505050" stroke-width="0.8" fill="#333" />
<text x="854" y="597" font-family="'Liberation Mono', monospace" font-size="12.73" font-weight="normal" fill="#1a1a1a" text-anchor="start" textLength="15" lengthAdjust="spacingAndGlyphs" style="white-space:pre" stroke="#1a1a1a" stroke-width="0.42" >USB</text>
<text x="834" y="658" font-family="'Liberation Mono', monospace" font-size="12.73" font-weight="normal" fill="#1a1a1a" text-anchor="start" textLength="59" lengthAdjust="spacingAndGlyphs" style="white-space:pre" stroke="#1a1a1a" stroke-width="0.42" >5V/2.1A-1.0A</text>
<rect x="1128" y="673.7" width="102.7" height="107.9" rx="0" stroke="#7a7a7a" stroke-width="1.7" fill="none"/>
<rect x="1144.7" y="683.3" width="17.7" height="85.7" rx="0" stroke="#7a7a7a" stroke-width="1.7" fill="none"/>
<path d="M1144.7,700 H1162.4" stroke="#7a7a7a" stroke-width="1.7" fill="none" />
<path d="M1144.7,717.6 H1162.4" stroke="#7a7a7a" stroke-width="1.7" fill="none" />
<path d="M1144.7,734.3 H1162.4" stroke="#7a7a7a" stroke-width="1.7" fill="none" />
<path d="M1144.7,751.7 H1162.4" stroke="#7a7a7a" stroke-width="1.7" fill="none" />
<text x="1150.7" y="696" font-family="'Liberation Mono', monospace" font-size="12.12" font-weight="normal" fill="#1a1a1a" text-anchor="start" textLength="10" lengthAdjust="spacingAndGlyphs" style="white-space:pre" stroke="#1a1a1a" stroke-width="0.42" >BK</text>
<text x="1151.5" y="713" font-family="'Liberation Mono', monospace" font-size="12.12" font-weight="normal" fill="#1a1a1a" text-anchor="start" textLength="6" lengthAdjust="spacingAndGlyphs" style="white-space:pre" stroke="#1a1a1a" stroke-width="0.42" >G</text>
<text x="1150.7" y="730" font-family="'Liberation Mono', monospace" font-size="12.12" font-weight="normal" fill="#1a1a1a" text-anchor="start" textLength="10" lengthAdjust="spacingAndGlyphs" style="white-space:pre" stroke="#1a1a1a" stroke-width="0.42" >Br</text>
<text x="1151.5" y="747" font-family="'Liberation Mono', monospace" font-size="12.12" font-weight="normal" fill="#1a1a1a" text-anchor="start" textLength="6" lengthAdjust="spacingAndGlyphs" style="white-space:pre" stroke="#1a1a1a" stroke-width="0.42" >R</text>
<text x="1150.7" y="763.5" font-family="'Liberation Mono', monospace" font-size="12.12" font-weight="normal" fill="#1a1a1a" text-anchor="start" textLength="10" lengthAdjust="spacingAndGlyphs" style="white-space:pre" stroke="#1a1a1a" stroke-width="0.42" >BU</text>
<path d="M1102.7,686.6 A4.7,4.7 0 0 0 1102.7,696" stroke="#222" stroke-width="1.3" fill="none" />
<path d="M1102.7,691.3 H1110.7" stroke="#000" stroke-width="2.2" fill="none" />
<path d="M1110.7,691.3 H1144.7" stroke="#7a7a7a" stroke-width="1.7" fill="none" />
<path d="M1102.7,703.9 A4.7,4.7 0 0 0 1102.7,713.3" stroke="#222" stroke-width="1.3" fill="none" />
<path d="M1102.7,708.6 H1110.7" stroke="#000" stroke-width="2.2" fill="none" />
<path d="M1110.7,708.6 H1144.7" stroke="#7a7a7a" stroke-width="1.7" fill="none" />
<path d="M1102.7,720.7 A4.7,4.7 0 0 0 1102.7,730.1" stroke="#222" stroke-width="1.3" fill="none" />
<path d="M1102.7,725.4 H1110.7" stroke="#000" stroke-width="2.2" fill="none" />
<path d="M1110.7,725.4 H1144.7" stroke="#7a7a7a" stroke-width="1.7" fill="none" />
<path d="M1102.7,738.2 A4.7,4.7 0 0 0 1102.7,747.6" stroke="#222" stroke-width="1.3" fill="none" />
<path d="M1102.7,742.9 H1110.7" stroke="#000" stroke-width="2.2" fill="none" />
<path d="M1110.7,742.9 H1144.7" stroke="#7a7a7a" stroke-width="1.7" fill="none" />
<path d="M1102.7,755.1 A4.7,4.7 0 0 0 1102.7,764.5" stroke="#222" stroke-width="1.3" fill="none" />
<path d="M1102.7,759.8 H1110.7" stroke="#000" stroke-width="2.2" fill="none" />
<path d="M1110.7,759.8 H1144.7" stroke="#7a7a7a" stroke-width="1.7" fill="none" />
<text x="1077" y="690" font-family="'Liberation Mono', monospace" font-size="10.91" font-weight="normal" fill="#1a1a1a" text-anchor="start" textLength="9.7" lengthAdjust="spacingAndGlyphs" style="white-space:pre" stroke="#1a1a1a" stroke-width="0.42" >BL</text>
<text x="1075.7" y="703.3" font-family="'Liberation Mono', monospace" font-size="10.91" font-weight="normal" fill="#1a1a1a" text-anchor="start" textLength="5.3" lengthAdjust="spacingAndGlyphs" style="white-space:pre" stroke="#1a1a1a" stroke-width="0.42" >G</text>
<text x="1076" y="720" font-family="'Liberation Mono', monospace" font-size="10.91" font-weight="normal" fill="#1a1a1a" text-anchor="start" textLength="9.6" lengthAdjust="spacingAndGlyphs" style="white-space:pre" stroke="#1a1a1a" stroke-width="0.42" >Br</text>
<text x="1079.7" y="741" font-family="'Liberation Mono', monospace" font-size="10.91" font-weight="normal" fill="#1a1a1a" text-anchor="start" textLength="5.6" lengthAdjust="spacingAndGlyphs" style="white-space:pre" stroke="#1a1a1a" stroke-width="0.42" >R</text>
<text x="1075" y="755" font-family="'Liberation Mono', monospace" font-size="10.91" font-weight="normal" fill="#1a1a1a" text-anchor="start" textLength="10" lengthAdjust="spacingAndGlyphs" style="white-space:pre" stroke="#1a1a1a" stroke-width="0.42" >BU</text>
<text x="1170" y="688" font-family="'Liberation Mono', monospace" font-size="9.85" font-weight="normal" fill="#1a1a1a" text-anchor="start" textLength="57" lengthAdjust="spacingAndGlyphs" style="white-space:pre" stroke="#1a1a1a" stroke-width="0.42" >Work instructions</text>
<text x="1178.7" y="710" font-family="'Liberation Mono', monospace" font-size="12.12" font-weight="normal" fill="#1a1a1a" text-anchor="start" textLength="39.3" lengthAdjust="spacingAndGlyphs" style="white-space:pre" stroke="#1a1a1a" stroke-width="0.42" >Overload</text>
<text x="1174.7" y="724.7" font-family="'Liberation Mono', monospace" font-size="12.12" font-weight="normal" fill="#1a1a1a" text-anchor="start" textLength="48" lengthAdjust="spacingAndGlyphs" style="white-space:pre" stroke="#1a1a1a" stroke-width="0.42" >indication</text>
<text x="1182" y="750" font-family="'Liberation Mono', monospace" font-size="12.12" font-weight="normal" fill="#1a1a1a" text-anchor="start" textLength="32.7" lengthAdjust="spacingAndGlyphs" style="white-space:pre" stroke="#1a1a1a" stroke-width="0.42" >low oil</text>
<text x="1174.7" y="764" font-family="'Liberation Mono', monospace" font-size="12.12" font-weight="normal" fill="#1a1a1a" text-anchor="start" textLength="48" lengthAdjust="spacingAndGlyphs" style="white-space:pre" stroke="#1a1a1a" stroke-width="0.42" >indication</text>
<path d="M1188.7,697.3 H1204.7" stroke="#505050" stroke-width="1" fill="none" />
<path d="M1193.7,693.3 L1199.7,697.3 L1193.7,701.3 Z M1199.7,693.3 V701.3" stroke="#505050" stroke-width="1" fill="none" />
<path d="M1196.7,692.3 L1203.7,687.3 M1198.7,694.3 L1205.7,689.3" stroke="#505050" stroke-width="0.9" fill="none" />
<path d="M1188.7,732.7 H1204.7" stroke="#505050" stroke-width="1" fill="none" />
<path d="M1193.7,728.7 L1199.7,732.7 L1193.7,736.7 Z M1199.7,728.7 V736.7" stroke="#505050" stroke-width="1" fill="none" />
<path d="M1196.7,727.7 L1203.7,722.7 M1198.7,729.7 L1205.7,724.7" stroke="#505050" stroke-width="0.9" fill="none" />
<path d="M1188.7,773 H1204.7" stroke="#505050" stroke-width="1" fill="none" />
<path d="M1193.7,769 L1199.7,773 L1193.7,777 Z M1199.7,769 V777" stroke="#505050" stroke-width="1" fill="none" />
<path d="M1196.7,768 L1203.7,763 M1198.7,770 L1205.7,765" stroke="#505050" stroke-width="0.9" fill="none" />
<path d="M1096,742.9 H983.5 V826.8 H903.8 V861 H817.4 V918.7" stroke="#7a7a7a" stroke-width="1.7" fill="none" />
<path d="M1096,759.8 H1007.3 V843.3 H923.2 V882.4 H839 V893.3" stroke="#7a7a7a" stroke-width="1.7" fill="none" />
<rect x="1162.2" y="812.2" width="69.1" height="113.1" rx="0" stroke="#333" stroke-width="1.4" fill="none"/>
<path d="M1231.3,812.2 V925.3" stroke="#383838" stroke-width="2" fill="none" />
<circle cx="1193" cy="822.2" r="3.5" stroke="#222" stroke-width="1.3" fill="none"/>
<path d="M1179,822.2 H1189.5" stroke="#222" stroke-width="2" fill="none" />
<circle cx="1193" cy="839.5" r="3.5" stroke="#222" stroke-width="1.3" fill="none"/>
<path d="M1179,839.5 H1189.5" stroke="#222" stroke-width="1.3" fill="none" />
<circle cx="1193" cy="856.7" r="3.5" stroke="#222" stroke-width="1.3" fill="none"/>
<path d="M1179,856.7 H1189.5" stroke="#222" stroke-width="1.3" fill="none" />
<circle cx="1193" cy="873.8" r="3.5" stroke="#222" stroke-width="1.3" fill="none"/>
<path d="M1179,873.8 H1189.5" stroke="#222" stroke-width="1.3" fill="none" />
<circle cx="1193" cy="890.8" r="3.5" stroke="#222" stroke-width="1.3" fill="none"/>
<path d="M1179,890.8 H1189.5" stroke="#222" stroke-width="1.3" fill="none" />
<circle cx="1193" cy="910.5" r="3.5" stroke="#222" stroke-width="1.3" fill="none"/>
<path d="M1179,910.5 H1189.5" stroke="#222" stroke-width="1.3" fill="none" />
<path d="M1189.5,856.7 H1141.7" stroke="#383838" stroke-width="2.5" fill="none" />
<path d="M1141.7,856.7 V800 H1298" stroke="#7a7a7a" stroke-width="1.7" fill="none" />
<path d="M1298,800 V960.3" stroke="#7a7a7a" stroke-width="1.7" fill="none" />
<path d="M1289,960.3 H1307" stroke="#222" stroke-width="1.4" fill="none" />
<path d="M1293,964 H1303" stroke="#222" stroke-width="1.4" fill="none" />
<path d="M1296,967.5 H1300" stroke="#222" stroke-width="1.4" fill="none" />
<text x="1267" y="794.7" font-family="'Liberation Mono', monospace" font-size="12.73" font-weight="normal" fill="#1a1a1a" text-anchor="start" textLength="10.5" lengthAdjust="spacingAndGlyphs" style="white-space:pre" stroke="#1a1a1a" stroke-width="0.42" >BL</text>
<text x="1201" y="861" font-family="'Liberation Mono', monospace" font-size="12.12" font-weight="normal" fill="#1a1a1a" text-anchor="start" textLength="5" lengthAdjust="spacingAndGlyphs" style="white-space:pre" stroke="#1a1a1a" stroke-width="0.42" >E</text>
<text x="1198.7" y="877.5" font-family="'Liberation Mono', monospace" font-size="12.12" font-weight="normal" fill="#1a1a1a" text-anchor="start" textLength="9.6" lengthAdjust="spacingAndGlyphs" style="white-space:pre" stroke="#1a1a1a" stroke-width="0.42" >IG</text>
<path d="M1189.5,873.8 H1086.3 V918.7" stroke="#7a7a7a" stroke-width="1.7" fill="none" />
<text x="1109.7" y="870.3" font-family="'Liberation Mono', monospace" font-size="12.73" font-weight="normal" fill="#1a1a1a" text-anchor="start" textLength="10.3" lengthAdjust="spacingAndGlyphs" style="white-space:pre" stroke="#1a1a1a" stroke-width="0.42" >BL</text>
<text x="1165" y="955.8" font-family="'Liberation Mono', monospace" font-size="12.73" font-weight="normal" fill="#1a1a1a" text-anchor="start" textLength="63.3" lengthAdjust="spacingAndGlyphs" style="white-space:pre" stroke="#1a1a1a" stroke-width="0.42" >Engine switch</text>
<text x="1166.7" y="995" font-family="'Liberation Mono', monospace" font-size="15.15" font-weight="normal" fill="#1a1a1a" text-anchor="start" textLength="111.3" lengthAdjust="spacingAndGlyphs" style="white-space:pre" stroke="#1a1a1a" stroke-width="0.42" >Control Panel Block</text>
<path d="M1298,937.6 H824.6 V944.4 H741 V1014" stroke="#7a7a7a" stroke-width="1.7" fill="none" />
<path d="M741,1014 H699" stroke="#383838" stroke-width="2.5" fill="none" />
<path d="M699,1014 V1169.6" stroke="#7a7a7a" stroke-width="1.7" fill="none" />
<path d="M690,1169.6 H708" stroke="#222" stroke-width="1.4" fill="none" />
<path d="M693,1173.6 H705" stroke="#222" stroke-width="1.4" fill="none" />
<path d="M696.5,1177.1 H701.5" stroke="#222" stroke-width="1.4" fill="none" />
<path d="M839,893.3 H823.9 A6.5,6.5 0 0 0 810.9,893.3 H719.5 A6.5,6.5 0 0 0 706.5,893.3 H700.9 A6.5,6.5 0 0 0 687.9,893.3 H682.5 A6.5,6.5 0 0 0 669.5,893.3 H663.5 A6.5,6.5 0 0 0 650.5,893.3 H571.9 A6.5,6.5 0 0 0 558.9,893.3 H335" stroke="#383838" stroke-width="2.5" fill="none" />
<path d="M335,893.3 V979" stroke="#7a7a7a" stroke-width="1.7" fill="none" />
<path d="M1086.3,918.7 H817.4 H719.5 A6.5,6.5 0 0 0 706.5,918.7 H700.9 A6.5,6.5 0 0 0 687.9,918.7 H682.5 A6.5,6.5 0 0 0 669.5,918.7 H663.5 A6.5,6.5 0 0 0 650.5,918.7 H571.9 A6.5,6.5 0 0 0 558.9,918.7 H357" stroke="#7a7a7a" stroke-width="1.7" fill="none" />
<path d="M357,918.7 V1001" stroke="#7a7a7a" stroke-width="1.7" fill="none" />
<path d="M1086.3,918.7 V873.8" stroke="#7a7a7a" stroke-width="1.7" fill="none" />
<text x="443" y="883" font-family="'Liberation Serif', serif" font-size="15.91" font-weight="normal" fill="#1a1a1a" text-anchor="start" textLength="34" lengthAdjust="spacingAndGlyphs" style="white-space:pre" stroke="#1a1a1a" stroke-width="0.25" >Y 1mm²</text>
<text x="393" y="913" font-family="'Liberation Serif', serif" font-size="15.91" font-weight="normal" fill="#1a1a1a" text-anchor="start" textLength="41" lengthAdjust="spacingAndGlyphs" style="white-space:pre" stroke="#1a1a1a" stroke-width="0.25" >BK 1mm²</text>
<text x="504" y="913" font-family="'Liberation Serif', serif" font-size="15.91" font-weight="normal" fill="#1a1a1a" text-anchor="start" textLength="48" lengthAdjust="spacingAndGlyphs" style="white-space:pre" stroke="#1a1a1a" stroke-width="0.25" >BK  1mm²</text>
<path d="M335,979 H312.4 V1063" stroke="#7a7a7a" stroke-width="1.7" fill="none" />
<path d="M305,1069.6 H320 L312.5,1084 Z" stroke="#000" stroke-width="0.8" fill="#000" />
<path d="M305,1103 H320 L312.5,1088.5 Z" stroke="#000" stroke-width="0.8" fill="#000" />
<path d="M312.4,1107.6 V1143" stroke="#7a7a7a" stroke-width="1.7" fill="none" />
<path d="M301.2,1143 H323.6" stroke="#222" stroke-width="1.4" fill="none" />
<path d="M305.9,1147.8 H318.9" stroke="#222" stroke-width="1.4" fill="none" />
<path d="M309.4,1152.2 H315.4" stroke="#222" stroke-width="1.4" fill="none" />
<text x="305" y="1047.6" font-family="'Liberation Mono', monospace" font-size="12.73" font-weight="normal" fill="#1a1a1a" text-anchor="start" textLength="5.5" lengthAdjust="spacingAndGlyphs" style="white-space:pre" stroke="#1a1a1a" stroke-width="0.42" >Y</text>
<text x="301.8" y="1176.4" font-family="'Liberation Mono', monospace" font-size="16.21" font-weight="normal" fill="#1a1a1a" text-anchor="start" textLength="58.7" lengthAdjust="spacingAndGlyphs" style="white-space:pre" stroke="#1a1a1a" stroke-width="0.42" >Oil sensor</text>
<path d="M335,1001 V1008" stroke="#000" stroke-width="2.6" fill="none" />
<path d="M330.4,1008.5 A4.6,4.6 0 0 0 339.6,1008.5" stroke="#222" stroke-width="1.2" fill="none" />
<path d="M335,979 V995" stroke="#7a7a7a" stroke-width="1.7" fill="none" />
<path d="M335,1012 V1119.6 H357.4 V1098" stroke="#7a7a7a" stroke-width="1.7" fill="none" />
<path d="M357,1013 V1006" stroke="#000" stroke-width="2.6" fill="none" />
<path d="M352.4,1005.5 A4.6,4.6 0 0 1 361.6,1005.5" stroke="#222" stroke-width="1.2" fill="none" />
<path d="M357,1011 V1072" stroke="#7a7a7a" stroke-width="1.7" fill="none" />
<path d="M357,1072 L370.2,1085 L357,1098 L343.8,1085 L357,1072" stroke="#222" stroke-width="1.2" fill="none" />
<path d="M357,1076 V1097 M350.5,1085 H363.5 M351.5,1093 L357,1082 L362.5,1093 Z M352,1081.5 H362" stroke="#333" stroke-width="0.9" fill="none" />
<text x="359" y="1050" font-family="'Liberation Mono', monospace" font-size="12.73" font-weight="normal" fill="#1a1a1a" text-anchor="start" textLength="5.5" lengthAdjust="spacingAndGlyphs" style="white-space:pre" stroke="#1a1a1a" stroke-width="0.42" >Y</text>
<path d="M485.4,918.7 V995" stroke="#383838" stroke-width="1.8" fill="none" />
<path d="M485.4,1001 V1008" stroke="#000" stroke-width="2.6" fill="none" />
<path d="M480.8,1008.5 A4.6,4.6 0 0 0 490,1008.5" stroke="#222" stroke-width="1.2" fill="none" />
<path d="M485.4,1012 V1051" stroke="#383838" stroke-width="1.8" fill="none" />
<rect x="453" y="1034" width="42" height="68.4" rx="0" stroke="#7a7a7a" stroke-width="1.7" fill="none"/>
<path d="M463,1052 A5.62,5.62 0 0 1 463,1063.25 A5.62,5.62 0 0 1 463,1074.5 A5.62,5.62 0 0 1 463,1085.75 A5.62,5.62 0 0 1 463,1097" stroke="#7a7a7a" stroke-width="1.7" fill="none" />
<path d="M485.4,1051 A5.69,5.69 0 0 0 485.4,1062.38 A5.69,5.69 0 0 0 485.4,1073.75 A5.69,5.69 0 0 0 485.4,1085.12 A5.69,5.69 0 0 0 485.4,1096.5" stroke="#7a7a7a" stroke-width="1.7" fill="none" />
<path d="M463,1052 V1041 H418 V1089" stroke="#7a7a7a" stroke-width="1.7" fill="none" />
<rect x="415" y="1089" width="7" height="14" rx="0" stroke="#505050" stroke-width="1.1" fill="none"/>
<path d="M418.5,1092 V1094" stroke="#7a7a7a" stroke-width="1.7" fill="none" />
<path d="M418,1103 V1143" stroke="#7a7a7a" stroke-width="1.7" fill="none" />
<path d="M406.8,1143 H429.2" stroke="#222" stroke-width="1.4" fill="none" />
<path d="M411.5,1147.8 H424.5" stroke="#222" stroke-width="1.4" fill="none" />
<path d="M415,1152.2 H421" stroke="#222" stroke-width="1.4" fill="none" />
<path d="M463,1097 V1118 H485.4" stroke="#7a7a7a" stroke-width="1.7" fill="none" />
<path d="M485.4,1096.5 V1143" stroke="#383838" stroke-width="1.8" fill="none" />
<path d="M474.2,1143 H496.6" stroke="#222" stroke-width="1.4" fill="none" />
<path d="M478.9,1147.8 H491.9" stroke="#222" stroke-width="1.4" fill="none" />
<path d="M482.4,1152.2 H488.4" stroke="#222" stroke-width="1.4" fill="none" />
<text x="409.5" y="1176.4" font-family="'Liberation Mono', monospace" font-size="16.21" font-weight="normal" fill="#1a1a1a" text-anchor="start" textLength="46.5" lengthAdjust="spacingAndGlyphs" style="white-space:pre" stroke="#1a1a1a" stroke-width="0.42" >Ignition</text>
<rect x="582" y="1133" width="90" height="43.4" rx="0" stroke="#7a7a7a" stroke-width="1.7" fill="none"/>
<path d="M588,1150 H591.6" stroke="#7a7a7a" stroke-width="1.7" fill="none" />
<path d="M591.6,1151.5 A4.47,4.47 0 0 0 600.53,1151.5 A4.47,4.47 0 0 0 609.47,1151.5 A4.47,4.47 0 0 0 618.4,1151.5" stroke="#7a7a7a" stroke-width="1.7" fill="none" />
<path d="M618.4,1151.5 H622" stroke="#7a7a7a" stroke-width="1.7" fill="none" />
<path d="M622,1150.5 H632.4" stroke="#7a7a7a" stroke-width="1.7" fill="none" />
<path d="M632.4,1151.5 H635.6" stroke="#7a7a7a" stroke-width="1.7" fill="none" />
<path d="M635.6,1151.5 A4.67,4.67 0 0 0 644.93,1151.5 A4.67,4.67 0 0 0 654.27,1151.5 A4.67,4.67 0 0 0 663.6,1151.5" stroke="#7a7a7a" stroke-width="1.7" fill="none" />
<path d="M663.6,1151.5 H667" stroke="#7a7a7a" stroke-width="1.7" fill="none" />
<text x="596.6" y="1191.6" font-family="'Liberation Mono', monospace" font-size="12.12" font-weight="normal" fill="#1a1a1a" text-anchor="start" textLength="57.8" lengthAdjust="spacingAndGlyphs" style="white-space:pre" stroke="#1a1a1a" stroke-width="0.42" >step motor</text>
<text x="747" y="1219" font-family="'Liberation Serif', serif" font-size="45.45" font-weight="normal" fill="#1a1a1a" text-anchor="start" textLength="59" lengthAdjust="spacingAndGlyphs" style="white-space:pre" stroke="#1a1a1a" stroke-width="0" >3900</text>
<text x="973" y="1094" font-family="'Liberation Mono', monospace" font-size="12.73" font-weight="normal" fill="#1a1a1a" text-anchor="start" textLength="30" lengthAdjust="spacingAndGlyphs" style="white-space:pre" stroke="#1a1a1a" stroke-width="0.42" >ENG.SW</text>
<rect x="938.5" y="1097.7" width="90.5" height="45.1" rx="0" stroke="#333" stroke-width="1.4" fill="none"/>
<path d="M1029,1097.7 V1142.8" stroke="#383838" stroke-width="2" fill="none" />
<path d="M984.2,1097.7 V1142.8 M1007,1097.7 V1142.8 M938.5,1112.7 H1029" stroke="#333" stroke-width="1.3" fill="none" />
<path d="M938.5,1128 H1029" stroke="#222" stroke-width="2" fill="none" />
<text x="988.9" y="1109.2" font-family="'Liberation Mono', monospace" font-size="12.12" font-weight="normal" fill="#1a1a1a" text-anchor="start" textLength="9.5" lengthAdjust="spacingAndGlyphs" style="white-space:pre" stroke="#1a1a1a" stroke-width="0.42" >IG</text>
<text x="1016.6" y="1109.2" font-family="'Liberation Mono', monospace" font-size="12.12" font-weight="normal" fill="#1a1a1a" text-anchor="start" textLength="5.5" lengthAdjust="spacingAndGlyphs" style="white-space:pre" stroke="#1a1a1a" stroke-width="0.42" >E</text>
<text x="951.7" y="1124" font-family="'Liberation Mono', monospace" font-size="12.12" font-weight="normal" fill="#1a1a1a" text-anchor="start" textLength="15.3" lengthAdjust="spacingAndGlyphs" style="white-space:pre" stroke="#1a1a1a" stroke-width="0.42" >OFF</text>
<text x="954" y="1139" font-family="'Liberation Mono', monospace" font-size="12.12" font-weight="normal" fill="#1a1a1a" text-anchor="start" textLength="10.8" lengthAdjust="spacingAndGlyphs" style="white-space:pre" stroke="#1a1a1a" stroke-width="0.42" >ON</text>
<circle cx="994.2" cy="1120.4" r="3" stroke="#222" stroke-width="1.2" fill="none"/>
<circle cx="1018.5" cy="1120.4" r="3" stroke="#222" stroke-width="1.2" fill="none"/>
<path d="M997.2,1120.4 H1015.5" stroke="#777" stroke-width="1.4" fill="none" />
<text x="1244.8" y="1087.6" font-family="'Liberation Mono', monospace" font-size="13.64" font-weight="normal" fill="#1a1a1a" text-anchor="start" textLength="56.8" lengthAdjust="spacingAndGlyphs" style="white-space:pre" stroke="#1a1a1a" stroke-width="0.42" >WIRE Code</text>
<rect x="1173.3" y="1099.6" width="212.6" height="93.3" rx="0" stroke="#333" stroke-width="1.5" fill="none"/>
<path d="M1173.3,1099.6 H1385.9" stroke="#383838" stroke-width="2" fill="none" />
<path d="M1243.2,1099.6 V1192.9" stroke="#333" stroke-width="1.4" fill="none" />
<path d="M1269.6,1099.6 V1192.9" stroke="#333" stroke-width="1.4" fill="none" />
<path d="M1340.8,1099.6 V1192.9" stroke="#333" stroke-width="1.4" fill="none" />
<path d="M1191.5,1099.6 V1192.9" stroke="#222" stroke-width="2.2" fill="none" />
<path d="M1314.7,1099.6 V1192.9" stroke="#222" stroke-width="2.2" fill="none" />
<path d="M1173.3,1122.8 H1385.9" stroke="#222" stroke-width="2" fill="none" />
<path d="M1173.3,1146 H1385.9" stroke="#333" stroke-width="1.4" fill="none" />
<path d="M1173.3,1169.2 H1385.9" stroke="#333" stroke-width="1.4" fill="none" />
<text x="1175.5" y="1114" font-family="'Liberation Mono', monospace" font-size="6.82" font-weight="normal" fill="#333" text-anchor="start" textLength="5.8" lengthAdjust="spacingAndGlyphs" style="white-space:pre" stroke="#333" stroke-width="0.42" >BK</text>
<text x="1195" y="1114" font-family="'Liberation Mono', monospace" font-size="6.82" font-weight="normal" fill="#333" text-anchor="start" textLength="14.5" lengthAdjust="spacingAndGlyphs" style="white-space:pre" stroke="#333" stroke-width="0.42" >Black</text>
<text x="1250" y="1114" font-family="'Liberation Mono', monospace" font-size="6.82" font-weight="normal" fill="#333" text-anchor="start" textLength="2.9" lengthAdjust="spacingAndGlyphs" style="white-space:pre" stroke="#333" stroke-width="0.42" >R</text>
<text x="1274" y="1114" font-family="'Liberation Mono', monospace" font-size="6.82" font-weight="normal" fill="#333" text-anchor="start" textLength="8.7" lengthAdjust="spacingAndGlyphs" style="white-space:pre" stroke="#333" stroke-width="0.42" >Red</text>
<text x="1322.5" y="1114" font-family="'Liberation Mono', monospace" font-size="6.82" font-weight="normal" fill="#333" text-anchor="start" textLength="5.8" lengthAdjust="spacingAndGlyphs" style="white-space:pre" stroke="#333" stroke-width="0.42" >Or</text>
<text x="1353" y="1114" font-family="'Liberation Mono', monospace" font-size="6.82" font-weight="normal" fill="#333" text-anchor="start" textLength="17.4" lengthAdjust="spacingAndGlyphs" style="white-space:pre" stroke="#333" stroke-width="0.42" >Orange</text>
<text x="1175.5" y="1137.2" font-family="'Liberation Mono', monospace" font-size="6.82" font-weight="normal" fill="#333" text-anchor="start" textLength="2.9" lengthAdjust="spacingAndGlyphs" style="white-space:pre" stroke="#333" stroke-width="0.42" >Y</text>
<text x="1195" y="1137.2" font-family="'Liberation Mono', monospace" font-size="6.82" font-weight="normal" fill="#333" text-anchor="start" textLength="17.4" lengthAdjust="spacingAndGlyphs" style="white-space:pre" stroke="#333" stroke-width="0.42" >Yellow</text>
<text x="1250" y="1137.2" font-family="'Liberation Mono', monospace" font-size="6.82" font-weight="normal" fill="#333" text-anchor="start" textLength="2.9" lengthAdjust="spacingAndGlyphs" style="white-space:pre" stroke="#333" stroke-width="0.42" >W</text>
<text x="1274" y="1137.2" font-family="'Liberation Mono', monospace" font-size="6.82" font-weight="normal" fill="#333" text-anchor="start" textLength="14.5" lengthAdjust="spacingAndGlyphs" style="white-space:pre" stroke="#333" stroke-width="0.42" >White</text>
<text x="1322.5" y="1137.2" font-family="'Liberation Mono', monospace" font-size="6.82" font-weight="normal" fill="#333" text-anchor="start" textLength="5.8" lengthAdjust="spacingAndGlyphs" style="white-space:pre" stroke="#333" stroke-width="0.42" >Gr</text>
<text x="1353" y="1137.2" font-family="'Liberation Mono', monospace" font-size="6.82" font-weight="normal" fill="#333" text-anchor="start" textLength="14.5" lengthAdjust="spacingAndGlyphs" style="white-space:pre" stroke="#333" stroke-width="0.42" >Green</text>
<text x="1175.5" y="1160.4" font-family="'Liberation Mono', monospace" font-size="6.82" font-weight="normal" fill="#333" text-anchor="start" textLength="5.8" lengthAdjust="spacingAndGlyphs" style="white-space:pre" stroke="#333" stroke-width="0.42" >BL</text>
<text x="1195" y="1160.4" font-family="'Liberation Mono', monospace" font-size="6.82" font-weight="normal" fill="#333" text-anchor="start" textLength="11.6" lengthAdjust="spacingAndGlyphs" style="white-space:pre" stroke="#333" stroke-width="0.42" >Blue</text>
<text x="1250" y="1160.4" font-family="'Liberation Mono', monospace" font-size="6.82" font-weight="normal" fill="#333" text-anchor="start" textLength="5.8" lengthAdjust="spacingAndGlyphs" style="white-space:pre" stroke="#333" stroke-width="0.42" >Br</text>
<text x="1274" y="1160.4" font-family="'Liberation Mono', monospace" font-size="6.82" font-weight="normal" fill="#333" text-anchor="start" textLength="14.5" lengthAdjust="spacingAndGlyphs" style="white-space:pre" stroke="#333" stroke-width="0.42" >Brown</text>
<text x="1322.5" y="1160.4" font-family="'Liberation Mono', monospace" font-size="6.82" font-weight="normal" fill="#333" text-anchor="start" textLength="2.9" lengthAdjust="spacingAndGlyphs" style="white-space:pre" stroke="#333" stroke-width="0.42" >P</text>
<text x="1353" y="1160.4" font-family="'Liberation Mono', monospace" font-size="6.82" font-weight="normal" fill="#333" text-anchor="start" textLength="11.6" lengthAdjust="spacingAndGlyphs" style="white-space:pre" stroke="#333" stroke-width="0.42" >Pink</text>
<text x="1175.5" y="1183.6" font-family="'Liberation Mono', monospace" font-size="6.82" font-weight="normal" fill="#333" text-anchor="start" textLength="8.7" lengthAdjust="spacingAndGlyphs" style="white-space:pre" stroke="#333" stroke-width="0.42" >Y/G</text>
<text x="1195" y="1183.6" font-family="'Liberation Mono', monospace" font-size="6.82" font-weight="normal" fill="#333" text-anchor="start" textLength="34.8" lengthAdjust="spacingAndGlyphs" style="white-space:pre" stroke="#333" stroke-width="0.42" >Yellow/Green</text>
<text x="1250" y="1183.6" font-family="'Liberation Mono', monospace" font-size="6.82" font-weight="normal" fill="#333" text-anchor="start" textLength="8.7" lengthAdjust="spacingAndGlyphs" style="white-space:pre" stroke="#333" stroke-width="0.42" >B/W</text>
<text x="1274" y="1183.6" font-family="'Liberation Mono', monospace" font-size="6.82" font-weight="normal" fill="#333" text-anchor="start" textLength="31.9" lengthAdjust="spacingAndGlyphs" style="white-space:pre" stroke="#333" stroke-width="0.42" >Black/White</text>
<text x="1322.5" y="1183.6" font-family="'Liberation Mono', monospace" font-size="6.82" font-weight="normal" fill="#333" text-anchor="start" textLength="5.8" lengthAdjust="spacingAndGlyphs" style="white-space:pre" stroke="#333" stroke-width="0.42" >Pu</text>
<text x="1353" y="1183.6" font-family="'Liberation Mono', monospace" font-size="6.82" font-weight="normal" fill="#333" text-anchor="start" textLength="17.4" lengthAdjust="spacingAndGlyphs" style="white-space:pre" stroke="#333" stroke-width="0.42" >Purple</text>
<line x1="0" y1="1371.3" x2="1500" y2="1371.3" stroke="#111" stroke-width="1.4"/>
<rect x="31.1" y="1406.4" width="215.2" height="59.6" fill="#807f84"/>
<path d="M66.7,1417.1 L85.6,1436 L66.7,1454.9 L57,1445.3 H70 Q74.6,1445.3 74.6,1440.6 Q74.6,1438 72.8,1436 Q74.6,1434 74.6,1431.4 Q74.6,1426.7 70,1426.7 H57 Z" fill="#ffffff"/>
<path d="M48.6,1431.2 H67.2 A1.5,1.5 0 0 1 67.2,1434.2 H48.6 A1.5,1.5 0 0 1 48.6,1431.2 Z" fill="#ffffff"/>
<path d="M48.6,1437.8 H67.2 A1.8,1.8 0 0 1 67.2,1441.4 H48.6 A1.8,1.8 0 0 1 48.6,1437.8 Z" fill="#ffffff"/>
<path d="M98.5,1422.2 H118 Q124,1422.2 124,1429 V1434 L123,1436 L124,1438 V1443 Q124,1448.9 118,1448.9 H98.5 L94,1442.3 H114 Q115.6,1442.3 115.6,1440.6 Q115.6,1439 114,1439 H103.9 V1432.7 H114 Q115.6,1432.7 115.6,1431 Q115.6,1429.4 114,1429.4 H94 Z" fill="#ffffff"/>
<path d="M128,1422 H136.2 V1433.4 H150.8 V1422 H158.4 V1444 Q158.4,1449 153.4,1449 H128 V1443.3 H150.8 V1439.6 H132 Q128,1439.6 128,1435.6 Z" fill="#ffffff"/>
<path d="M163.8,1422 H195.2 V1429.9 H172.3 V1433.4 H189.7 Q195.2,1433.4 195.2,1439 V1443.5 Q195.2,1449 189.7,1449 H163.8 Z M172.3,1439.6 V1443.3 H187.5 V1439.6 Z" fill="#ffffff" fill-rule="evenodd"/>
<path d="M199,1422 H225.3 Q230.8,1422 230.8,1427.5 V1434.1 Q230.8,1439.6 225.3,1439.6 H207.3 V1449 H199 Z M207.3,1429.9 V1433.4 H222.8 V1429.9 Z" fill="#ffffff" fill-rule="evenodd"/>
<text x="289" y="1451" font-family="'Liberation Sans', sans-serif" font-size="37.7" fill="#000" textLength="172" lengthAdjust="spacingAndGlyphs">СБИ-3900.</text>
<text x="471" y="1451" font-family="'Liberation Sans', sans-serif" font-size="33.5" fill="#111" stroke="#fff" stroke-width="0.9" textLength="859" lengthAdjust="spacingAndGlyphs">Схема 1-3 ((Схема-электрическая. Инверторный генератор)</text>
<circle cx="169" cy="389" r="3.2" fill="#000"/>
<circle cx="312.4" cy="423.2" r="3.4" fill="#000"/>
<circle cx="197" cy="492.1" r="3.4" fill="#000"/>
<circle cx="245.4" cy="457.4" r="3.4" fill="#000"/>
<circle cx="1015" cy="546.3" r="3.4" fill="#000"/>
<circle cx="1015" cy="565" r="3.4" fill="#000"/>
<circle cx="1247" cy="243.5" r="3.4" fill="#000"/>
<circle cx="1101" cy="332.4" r="3.4" fill="#000"/>
<circle cx="1295" cy="269.5" r="3.4" fill="#000"/>
<circle cx="1295" cy="459" r="3.4" fill="#000"/>
<circle cx="1406.6" cy="331.8" r="3.4" fill="#000"/>
<circle cx="1307" cy="384.3" r="3.4" fill="#000"/>
<circle cx="1306.6" cy="384.3" r="3.4" fill="#000"/>
<circle cx="704" cy="619.5" r="3.4" fill="#000"/>
<circle cx="703.3" cy="637.3" r="3.4" fill="#000"/>
<circle cx="817.4" cy="918.7" r="3.4" fill="#000"/>
<circle cx="1298" cy="937.2" r="3.4" fill="#000"/>
<circle cx="485.4" cy="918.7" r="3.4" fill="#000"/>
<circle cx="335" cy="979" r="3.4" fill="#000"/>
<circle cx="485.4" cy="1118" r="3.4" fill="#000"/>
</svg>
</body></html>
